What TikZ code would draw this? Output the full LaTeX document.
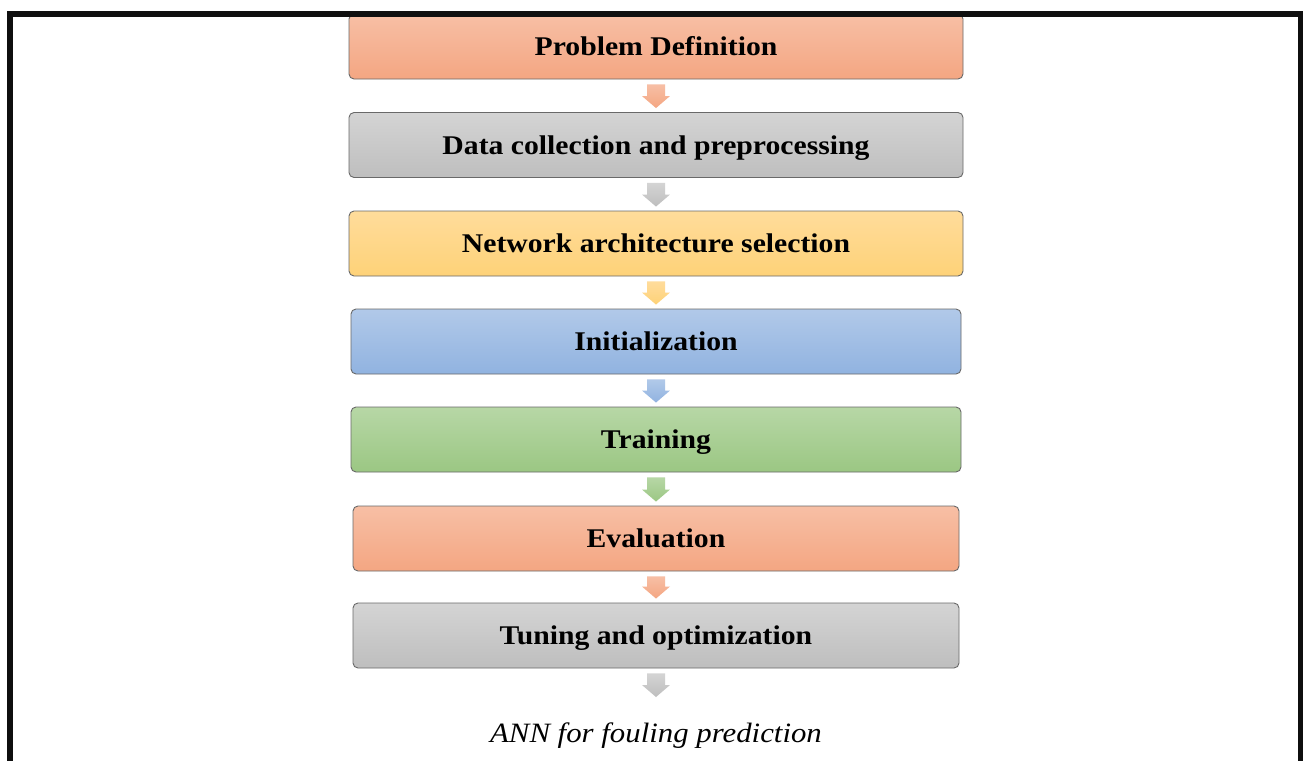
\documentclass[tikz,border=0pt]{standalone}
\usepackage{fontspec}
\setmainfont[FakeStretch=1.1]{Liberation Serif}
\usetikzlibrary{calc}
\definecolor{orT}{RGB}{247,191,165}
\definecolor{orB}{RGB}{244,166,130}
\definecolor{grT}{RGB}{212,212,212}
\definecolor{grB}{RGB}{190,190,190}
\definecolor{yeT}{RGB}{255,220,155}
\definecolor{yeB}{RGB}{254,210,120}
\definecolor{blT}{RGB}{177,201,233}
\definecolor{blB}{RGB}{145,179,224}
\definecolor{gnT}{RGB}{183,215,166}
\definecolor{gnB}{RGB}{155,199,131}
\definecolor{boxline}{RGB}{105,105,105}
\definecolor{frame}{RGB}{15,15,15}
\newcommand\blockarrow[3]{%
  \shade[top color=#3T, bottom color=#3B]
    ($(#1.south)+(-9,5)$) -- ($(#1.south)+(9,5)$) -- ($(#2)+(9,-12)$) --
    ($(#2)+(14,-12)$) -- (#2) -- ($(#2)+(-14,-12)$) -- ($(#2)+(-9,-12)$) -- cycle;}
\begin{document}
\begin{tikzpicture}[x=1pt,y=-1pt,
  stepbox/.style={draw=boxline, line width=0.9pt, rounded corners=5pt,
    minimum height=65pt, inner sep=0pt, text height=22pt, text depth=4pt,
    font=\fontsize{27}{31}\selectfont\bfseries, text=black},
  orbox/.style={stepbox, top color=orT, bottom color=orB},
  grbox/.style={stepbox, top color=grT, bottom color=grB},
  yebox/.style={stepbox, top color=yeT, bottom color=yeB},
  blbox/.style={stepbox, top color=blT, bottom color=blB},
  gnbox/.style={stepbox, top color=gnT, bottom color=gnB},
  captxt/.style={font=\fontsize{28}{32}\selectfont\itshape, inner sep=0pt}
]
\useasboundingbox (0,0) rectangle (1303,760);
\fill[white] (0,0) rectangle (1303,760);
\node[orbox, minimum width=614pt] (s1) at (656,46.5) {Problem Definition};
\node[grbox, minimum width=614pt] (s2) at (656,145) {Data collection and preprocessing};
\node[yebox, minimum width=614pt] (s3) at (656,243.5) {Network architecture selection};
\node[blbox, minimum width=610pt] (s4) at (656,341.5) {Initialization};
\node[gnbox, minimum width=610pt] (s5) at (656,439.5) {Training};
\node[orbox, minimum width=606pt] (s6) at (656,538.5) {Evaluation};
\node[grbox, minimum width=606pt] (s7) at (656,635.5) {Tuning and optimization};
\node[captxt] (cap) at (656,736) {ANN for fouling prediction};
\coordinate (t2) at ($(s2.north)+(0,-4)$);
\coordinate (t3) at ($(s3.north)+(0,-4)$);
\coordinate (t4) at ($(s4.north)+(0,-4)$);
\coordinate (t5) at ($(s5.north)+(0,-4)$);
\coordinate (t6) at ($(s6.north)+(0,-4)$);
\coordinate (t7) at ($(s7.north)+(0,-4)$);
\coordinate (t8) at (656,697);
\blockarrow{s1}{t2}{or}
\blockarrow{s2}{t3}{gr}
\blockarrow{s3}{t4}{ye}
\blockarrow{s4}{t5}{bl}
\blockarrow{s5}{t6}{gn}
\blockarrow{s6}{t7}{or}
\blockarrow{s7}{t8}{gr}
\draw[line width=6pt, frame] (10,800) -- (10,14) -- (1300.5,14) -- (1300.5,800);
\end{tikzpicture}
\end{document}
